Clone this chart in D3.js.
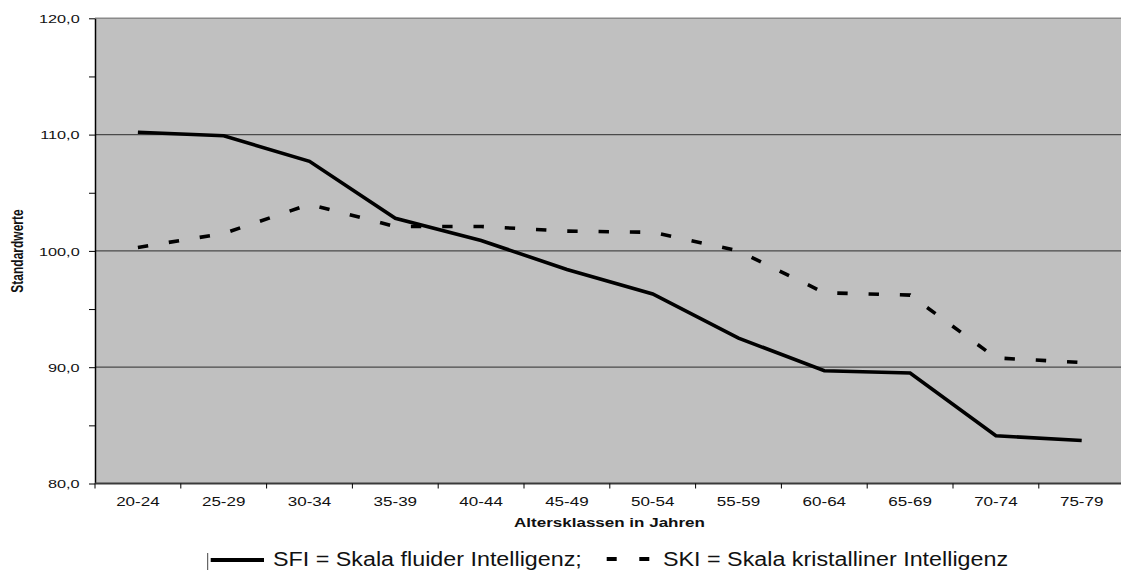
<!DOCTYPE html>
<html>
<head>
<meta charset="utf-8">
<script src="https://cdn.jsdelivr.net/npm/d3@7"></script>
<style>
  html, body { margin: 0; padding: 0; background: #fff; }
  svg { display: block; }
  text { font-family: "Liberation Sans", Arial, Helvetica, sans-serif; fill: #111; }
</style>
</head>
<body>
<svg id="chart" width="1121" height="570"></svg>
<script>
const categories = ["20-24","25-29","30-34","35-39","40-44","45-49","50-54","55-59","60-64","65-69","70-74","75-79"];
const sfiValues = [110.2, 109.9, 107.7, 102.8, 100.9, 98.4, 96.3, 92.5, 89.7, 89.5, 84.1, 83.7];
const skiValues = [100.3, 101.5, 104.0, 102.1, 102.1, 101.7, 101.6, 100.0, 96.4, 96.2, 90.8, 90.4];
const yTicks = [80, 85, 90, 95, 100, 105, 110, 115, 120];
const yLabelTicks = [80, 90, 100, 110, 120];
const yGridTicks = [90, 100, 110, 120];
const yTitle = "Standardwerte";
const xTitle = "Altersklassen in Jahren";
const legendLabels = ["SFI = Skala fluider Intelligenz;", "SKI = Skala kristalliner Intelligenz"];

const svg = d3.select("#chart");
const plot = { left: 95, right: 1124.6, top: 18.3, bottom: 483.5 };

const x = d3.scaleBand().domain(categories).range([plot.left, plot.right]).padding(0);
const y = d3.scaleLinear().domain([80, 120]).range([plot.bottom, plot.top]);
const cx = d => x(d) + x.bandwidth() / 2;

// background
svg.append("rect")
  .attr("x", plot.left).attr("y", plot.top)
  .attr("width", plot.right - plot.left).attr("height", plot.bottom - plot.top)
  .attr("fill", "#c0c0c0");

// grid lines
svg.append("g").selectAll("line").data(yGridTicks).join("line")
  .attr("x1", plot.left).attr("x2", plot.right)
  .attr("y1", d => y(d)).attr("y2", d => y(d))
  .attr("stroke", d => d === 120 ? "#8a8a8a" : "#4a4a4a")
  .attr("stroke-width", d => d === 120 ? 1.6 : 1.3);

// y axis
const yAxis = d3.axisLeft(y).tickValues(yTicks).tickSize(6).tickSizeOuter(0)
  .tickFormat(d => yLabelTicks.includes(d) ? d3.format(".1f")(d).replace(".", ",") : "");
const gy = svg.append("g").attr("transform", `translate(${plot.left},0)`).call(yAxis);
gy.select(".domain").attr("stroke", "#000").attr("stroke-width", 1.5);
gy.selectAll(".tick line").attr("stroke", "#000").attr("stroke-width", 1);
gy.selectAll(".tick text")
  .attr("font-size", 11.8).attr("font-family", "Liberation Sans, Arial, sans-serif")
  .attr("fill", "#111")
  .attr("x", -11.1).attr("dy", "0.36em")
  .attr("transform", "scale(1.38,1)");

// x axis (ticks at band boundaries)
const boundaries = categories.map(c => x(c));
svg.append("line")
  .attr("x1", plot.left).attr("x2", plot.right)
  .attr("y1", plot.bottom).attr("y2", plot.bottom)
  .attr("stroke", "#3a3a3a").attr("stroke-width", 1.8);
svg.append("g").selectAll("line").data(boundaries).join("line")
  .attr("x1", d => d).attr("x2", d => d)
  .attr("y1", plot.bottom).attr("y2", plot.bottom + 5)
  .attr("stroke", "#000").attr("stroke-width", 1);
svg.append("g").selectAll("text").data(categories).join("text")
  .attr("transform", d => `translate(${cx(d)},${506}) scale(1.31,1)`)
  .attr("text-anchor", "middle")
  .attr("font-size", 13)
  .text(d => d);

// axis titles
svg.append("text")
  .attr("transform", `translate(${609.5},${527}) scale(1.31,1)`)
  .attr("text-anchor", "middle").attr("font-size", 13).attr("font-weight", "bold")
  .text(xTitle);
svg.append("text")
  .attr("transform", `translate(${22.5},${251}) scale(1.3,1) rotate(-90)`)
  .attr("text-anchor", "middle").attr("font-size", 12).attr("font-weight", "bold")
  .text(yTitle);

// lines
const line = d3.line().x((d, i) => cx(categories[i])).y(d => y(d));
svg.append("path").datum(sfiValues)
  .attr("d", line).attr("fill", "none")
  .attr("stroke", "#000").attr("stroke-width", 3.6).attr("stroke-linejoin", "miter");
svg.append("path").datum(skiValues)
  .attr("d", line).attr("fill", "none")
  .attr("stroke", "#000").attr("stroke-width", 3.6)
  .attr("stroke-dasharray", "10.4,20.9");

// legend
const lg = svg.append("g");
lg.append("line").attr("x1", 207.7).attr("x2", 207.7).attr("y1", 553).attr("y2", 570)
  .attr("stroke", "#444").attr("stroke-width", 1);
lg.append("line").attr("x1", 210.7).attr("x2", 264).attr("y1", 560).attr("y2", 560)
  .attr("stroke", "#000").attr("stroke-width", 4);
lg.append("line").attr("x1", 606.7).attr("x2", 650).attr("y1", 559).attr("y2", 559)
  .attr("stroke", "#000").attr("stroke-width", 4).attr("stroke-dasharray", "10,22.6");
lg.append("text").attr("transform", "translate(273,566) scale(1.11,1)")
  .attr("font-size", 21).text(legendLabels[0]);
lg.append("text").attr("transform", "translate(663,566) scale(1.11,1)")
  .attr("font-size", 21).text(legendLabels[1]);
</script>
</body>
</html>
